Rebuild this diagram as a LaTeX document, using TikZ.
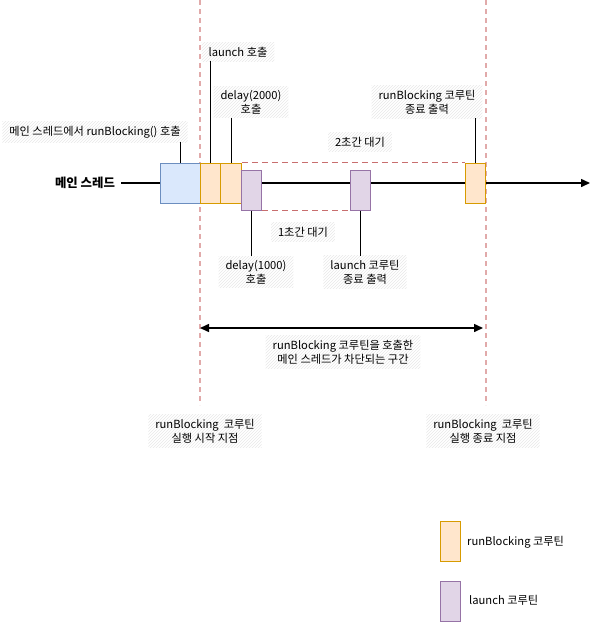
\documentclass[tikz,border=0pt]{standalone}
\usepackage{fontspec}
\setmainfont{Noto Sans CJK KR}
\usetikzlibrary{patterns,arrows.meta}

\begin{document}
\begin{tikzpicture}[x=1pt,y=-1pt,
	lbl/.style={pattern=north east lines, pattern color=black!9, align=center,
		inner xsep=7pt, inner ysep=4pt, font=\fontsize{11.2}{14}\selectfont},
	plain/.style={align=center, inner sep=2pt, font=\fontsize{11.2}{14}\selectfont},
	box/.style={draw, line width=1, inner sep=0, minimum width=20.5, minimum height=40},
	rbox/.style={box, draw=ORANGED, fill=ORANGEF},
	lbox/.style={box, draw=PURPLED, fill=PURPLEF},
	wait/.style={REDD, line width=1.5, dash pattern=on 6pt off 4pt},
	edge/.style={PINK, line width=1.5, dash pattern=on 5pt off 4pt}]

\useasboundingbox (0,0) rectangle (599,622);
\definecolor{BLUEF}{RGB}{218,232,252}
\definecolor{BLUED}{RGB}{108,142,191}
\definecolor{ORANGEF}{RGB}{255,230,204}
\definecolor{ORANGED}{RGB}{215,155,0}
\definecolor{PURPLEF}{RGB}{225,213,231}
\definecolor{PURPLED}{RGB}{150,115,166}
\definecolor{REDD}{RGB}{200,110,110}
\definecolor{PINK}{RGB}{225,170,170}

% start / end of runBlocking
\coordinate (s0) at (200,0);
\coordinate (s1) at (200,405);
\coordinate (e0) at (486,0);
\coordinate (e1) at (486,405);
\draw[edge] (s0) -- (s1);
\draw[edge] (e0) -- (e1);

% main thread
\node[font=\fontsize{12.4}{14}\selectfont\bfseries, inner sep=2pt] (main) at (85,183) {메인 스레드};
\coordinate (tail) at (590,183);
\draw[line width=1.5, -{Triangle[length=9pt, width=8pt]}] (main.east) ++(4,0) -- (tail);

\node[box, minimum width=40, draw=BLUED, fill=BLUEF] (rb) at (180,183) {};
\node[rbox] (o1) at (210.5,183) {};
\node[rbox] (o2) at (231,183) {};
\node[lbox] (p1) at (251.5,190) {};
\node[lbox] (p2) at (360.5,190) {};
\node[rbox] (o3) at (475.5,183) {};

% waiting
\draw[wait] (o2.north east) -- (o3.north west);
\draw[wait] (p1.south east) -- (p2.south west);
\node[lbl] (w2) at (360,142) {2초간 대기};
\node[lbl] (w1) at (303,232) {1초간 대기};

% callouts
\node[lbl] (crb) at (95,132) {메인 스레드에서 runBlocking() 호출};
\draw (rb.north) -- (rb.north |- crb.south);
\node[lbl] (claunch) at (238,52) {launch 호출};
\draw (o1.north) -- (o1.north |- claunch.south);
\node[lbl] (cd2) at (251,102) {delay(2000)\\호출};
\draw (o2.north) -- (o2.north |- cd2.south);
\node[lbl] (cend) at (427,102) {runBlocking 코루틴\\종료 출력};
\draw (o3.north) -- (o3.north |- cend.south);
\node[lbl] (cd1) at (256,272) {delay(1000)\\호출};
\draw (p1.south) -- (p1.south |- cd1.north);
\node[lbl] (clend) at (365,272) {launch 코루틴\\종료 출력};
\draw (p2.south) -- (p2.south |- clend.north);

% blocked span
\coordinate (b0) at (200,328);
\coordinate (b1) at (483,328);
\draw[line width=1.5, {Triangle[length=9pt, width=8pt]}-{Triangle[length=9pt, width=8pt]}] (b0) -- (b1);
\node[lbl] (block) at (343,352) {runBlocking 코루틴을 호출한\\메인 스레드가 차단되는 구간};

\node[lbl] (start) at (205,431) {runBlocking\ \ 코루틴\\실행 시작 지점};
\node[lbl] (stop) at (483,431) {runBlocking\ \ 코루틴\\실행 종료 지점};

% legend
\node[rbox] (k1) at (450.5,541) {};
\node[plain, anchor=west] (k1t) at (465,542) {runBlocking 코루틴};
\node[lbox] (k2) at (450.5,601) {};
\node[plain, anchor=west] (k2t) at (467,600) {launch 코루틴};
\end{tikzpicture}
\end{document}
